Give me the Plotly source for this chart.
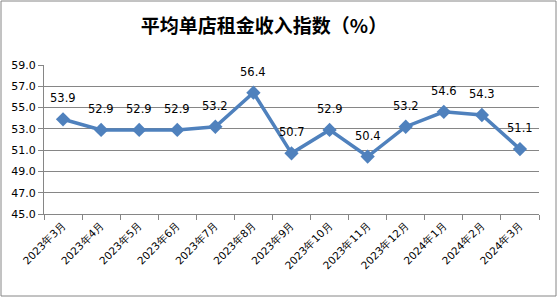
import plotly.graph_objects as go

months = ["2023年3月", "2023年4月", "2023年5月", "2023年6月", "2023年7月", "2023年8月",
          "2023年9月", "2023年10月", "2023年11月", "2023年12月", "2024年1月", "2024年2月", "2024年3月"]
values = [53.9, 52.9, 52.9, 52.9, 53.2, 56.4, 50.7, 52.9, 50.4, 53.2, 54.6, 54.3, 51.1]
y_ticks = [45.0, 47.0, 49.0, 51.0, 53.0, 55.0, 57.0, 59.0]

W, H = 557, 297
ml, mr, mt, mb = 44, 18, 65, 83
pw, ph = W - ml - mr, H - mt - mb

fig = go.Figure()
fig.add_trace(go.Scatter(
    x=months, y=values, mode="lines+markers",
    line=dict(color="#4F81BD", width=3.5),
    marker=dict(symbol="diamond", size=11, color="#4F81BD"),
    cliponaxis=False, showlegend=False,
))

annotations = [dict(x=m, y=v, text=f"{v:.1f}", showarrow=False, yshift=21, yanchor="middle",
                    font=dict(family="DejaVu Sans", size=11.5, color="#000000"))
               for m, v in zip(months, values)]

fig.update_layout(
    width=W, height=H,
    margin=dict(l=ml, r=mr, t=mt, b=mb),
    paper_bgcolor="white", plot_bgcolor="white",
    title=dict(text="<b>平均单店租金收入指数（%）</b>", x=0.474, xanchor="center", y=0.912, yanchor="middle",
               font=dict(family="Noto Sans CJK SC", size=19, color="#000000")),
    xaxis=dict(type="category", range=[-0.5, 12.5], tickangle=-45, tickson="boundaries",
               ticks="outside", ticklen=5, tickcolor="#868686", showline=True, linecolor="#868686",
               linewidth=1, showgrid=False,
               tickfont=dict(family="DejaVu Sans", size=10.5, color="#000000")),
    yaxis=dict(range=[45, 59], tickvals=y_ticks, tickformat=".1f", ticks="outside", ticklen=5,
               tickcolor="#868686", showline=True, linecolor="#868686", linewidth=1,
               showgrid=True, gridcolor="#868686", gridwidth=1, zeroline=False,
               tickfont=dict(family="DejaVu Sans", size=11, color="#000000")),
    annotations=annotations,
    shapes=[dict(type="rect", xref="paper", yref="paper",
                 x0=-(ml - 1) / pw, x1=1 + (mr - 1) / pw,
                 y0=-(mb - 1) / ph, y1=1 + (mt - 1) / ph,
                 line=dict(color="#868686", width=1))],
)

fig.write_html("out.html")
